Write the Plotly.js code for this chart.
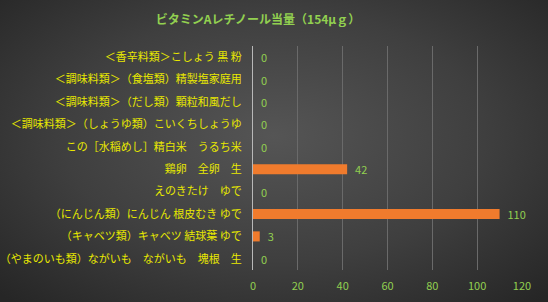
<!DOCTYPE html>
<html>
<head>
<meta charset="utf-8">
<script src="https://cdn.plot.ly/plotly-3.0.1.min.js"></script>
<style>
html,body{margin:0;padding:0;}
#chart{width:548px;height:302px;background:radial-gradient(ellipse 70% 75% at 50% 45%, #555555 0%, #3f3f3f 55%, #262626 100%);}
</style>
</head>
<body>
<div id="chart"></div>
<script>
const categories = [
  "＜香辛料類＞こしょう 黒 粉",
  "＜調味料類＞（食塩類）精製塩家庭用",
  "＜調味料類＞（だし類）顆粒和風だし",
  "＜調味料類＞（しょうゆ類）こいくちしょうゆ",
  "この［水稲めし］精白米　うるち米",
  "鶏卵　全卵　生",
  "えのきたけ　ゆで",
  "（にんじん類）にんじん 根皮むき ゆで",
  "（キャベツ類）キャベツ 結球葉 ゆで",
  "（やまのいも類）ながいも　ながいも　塊根　生"
];
const values = [0, 0, 0, 0, 0, 42, 0, 110, 3, 0];
const tickVals = [0, 20, 40, 60, 80, 100, 120];
const chartTitle = "ビタミンAレチノール当量（154μｇ）";

const font = '"Noto Sans CJK JP", "Noto Sans", sans-serif';
const trace = {
  type: 'bar',
  orientation: 'h',
  y: categories,
  x: values,
  texttemplate: '\u00a0\u00a0%{x}',
  textposition: 'outside',
  constraintext: 'none',
  cliponaxis: false,
  textfont: {color: '#92d050', size: 11, family: font},
  marker: {color: '#f07b2d'},
  width: 0.45,
  hoverinfo: 'none'
};
const layout = {
  width: 548, height: 302,
  paper_bgcolor: 'rgba(0,0,0,0)',
  plot_bgcolor: 'rgba(0,0,0,0)',
  margin: {l: 253, r: 26, t: 46, b: 32},
  showlegend: false,
  uniformtext: {mode: false},
  title: {text: chartTitle, x: 258/548, xanchor: 'center', y: 1 - 20/302, yanchor: 'middle',
          font: {color: '#92d050', size: 12, family: font, weight: 'bold'}},
  xaxis: {range: [0, 120], tickvals: tickVals, showgrid: true, gridcolor: '#6a6a6a', gridwidth: 1,
          zeroline: false, showline: false, ticks: '', ticklabelstandoff: 8,
          tickfont: {color: '#92d050', size: 11, family: font}, fixedrange: true},
  yaxis: {autorange: 'reversed', showgrid: false, zeroline: false, showline: true,
          linecolor: '#b8b8b8', linewidth: 1, ticks: '', ticklabelstandoff: 8,
          tickfont: {color: '#e8e800', size: 11, family: font}, fixedrange: true},
  bargap: 0.55
};
Plotly.newPlot('chart', [trace], layout, {displayModeBar: false, staticPlot: true});
</script>
</body>
</html>
